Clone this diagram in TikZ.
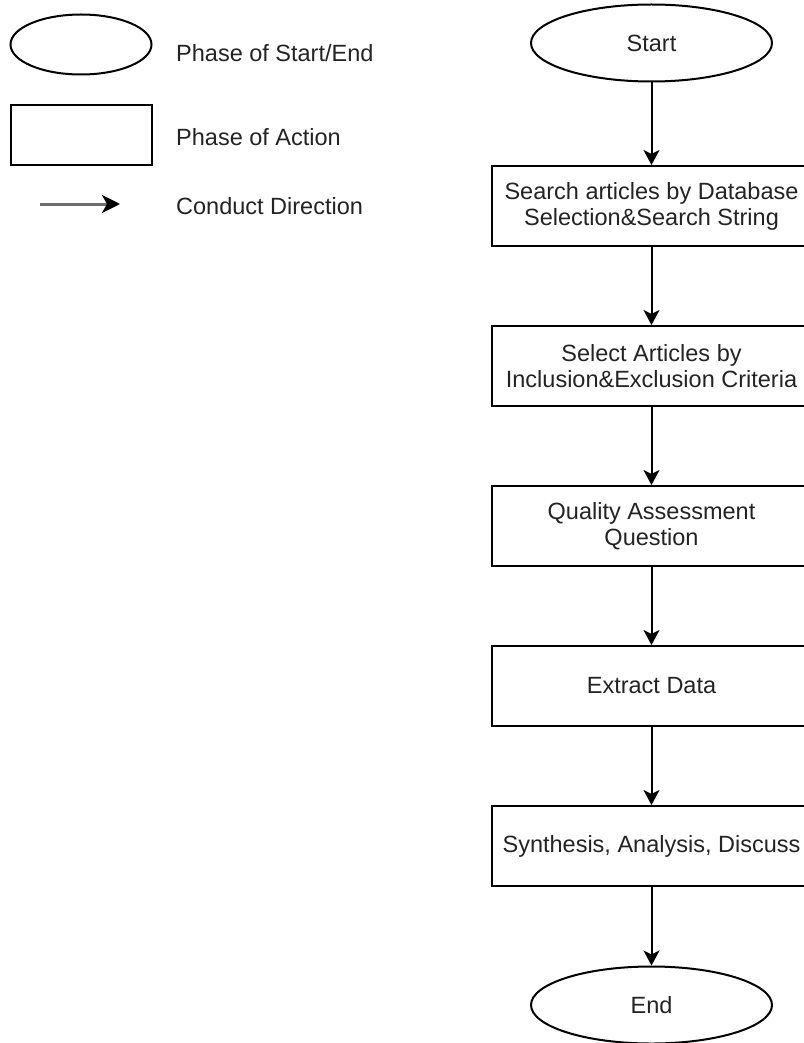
\documentclass[tikz,border=0pt]{standalone}
\usepackage{fontspec}
\setmainfont{Liberation Sans}
\usetikzlibrary{arrows.meta,shapes.geometric}
\definecolor{txt}{RGB}{35,35,35}
\definecolor{legline}{RGB}{110,110,110}
\begin{document}
\begin{tikzpicture}[x=1pt,y=-1pt,
  lbl/.style={font=\fontsize{23.5}{26}\selectfont, text=txt},
  base/.style={lbl, draw=black, line width=2pt, align=center, inner sep=0pt},
  terminal/.style={base, ellipse, minimum width=241pt, minimum height=77pt},
  action/.style={base, rectangle, minimum width=320pt, minimum height=80pt},
  legterm/.style={base, ellipse, minimum width=141pt, minimum height=60pt},
  legact/.style={base, rectangle, minimum width=141pt, minimum height=60pt},
  flow/.style={line width=2pt, -{Stealth[length=15pt,width=16pt,inset=4pt]}},
  legtext/.style={lbl, anchor=base west, inner sep=0pt}
]
\useasboundingbox (0,0) rectangle (803,1043);

% legend
\node[legterm] (le) at (81,44.5) {};
\node[legact] (lr) at (81,135.5) {};
\coordinate (la1) at (40,204);
\coordinate (la2) at (120,204);
\draw[line width=3pt, draw=legline, -{Stealth[length=18pt,width=18pt,inset=5pt,color=black]}] (la1) -- (la2);
\node[legtext] (t1) at (176,62) {Phase of Start/End};
\node[legtext] (t2) at (176,146) {Phase of Action};
\node[legtext] (t3) at (176,214) {Conduct Direction};

% flow
\node[terminal] (start) at (651.5,43) {Start};
\node[action] (b1) at (651.5,206) {Search articles by Database\\Selection\&Search String};
\node[action] (b2) at (651.5,366) {Select Articles by\\Inclusion\&Exclusion Criteria};
\node[action] (b3) at (651.5,526) {Quality Assessment\\Question};
\node[action] (b4) at (651.5,686) {Extract Data};
\node[action] (b5) at (651.5,846) {Synthesis, Analysis, Discuss};
\node[terminal] (end) at (651.5,1005) {End};

\draw[flow] (start) -- (b1);
\draw[flow] (b1) -- (b2);
\draw[flow] (b2) -- (b3);
\draw[flow] (b3) -- (b4);
\draw[flow] (b4) -- (b5);
\draw[flow] (b5) -- (end);
\end{tikzpicture}
\end{document}
